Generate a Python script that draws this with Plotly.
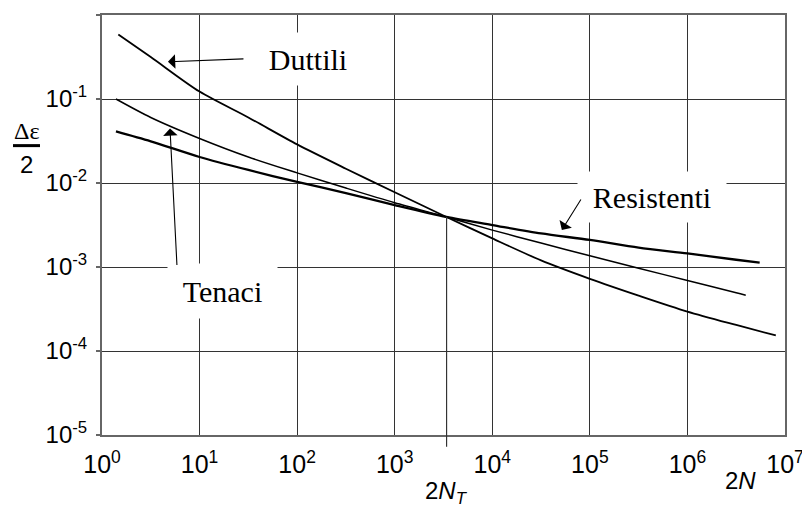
import math
import plotly.graph_objects as go

# ---- data ----
duttili_x = [1.47, 3.16, 10, 31.6, 100, 316, 1000, 3390, 1e4, 3.16e4, 1e5, 3.16e5, 1e6, 3.16e6, 8.05e6]
duttili_y = [0.585, 0.316, 0.1225, 0.0603, 0.0288, 0.0148, 0.00776, 0.00394, 0.00219, 0.00120,
             0.000724, 0.000457, 0.000295, 0.000204, 0.000153]

tenaci_x = [1.39, 3.16, 10, 31.6, 100, 316, 1000, 3390, 1e4, 3.16e4, 1e5, 3.16e5, 1e6, 3.16e6, 3.96e6]
tenaci_y = [0.100, 0.0603, 0.0339, 0.0204, 0.0132, 0.00871, 0.00582, 0.00394, 0.00275, 0.00193,
            0.00136, 0.000966, 0.000692, 0.000495, 0.000462]

resistenti_x = [1.39, 3.16, 10, 31.6, 100, 316, 1000, 3390, 1e4, 3.16e4, 1e5, 3.16e5, 1e6, 3.16e6, 5.5e6]
resistenti_y = [0.0411, 0.0313, 0.0204, 0.0143, 0.0103, 0.00759, 0.00546, 0.00394, 0.00316, 0.00251,
                0.00210, 0.00170, 0.00145, 0.00122, 0.00113]

x_tickvals = [1, 10, 100, 1e3, 1e4, 1e5, 1e6, 1e7]
x_ticktext = ["10<sup>0</sup>", "10<sup>1</sup>", "10<sup>2</sup>", "10<sup>3</sup>",
              "10<sup>4</sup>", "10<sup>5</sup>", "10<sup>6</sup>", "10<sup>7</sup>"]
y_tickvals = [1e-5, 1e-4, 1e-3, 1e-2, 1e-1, 1]
y_ticktext = ["10<sup>-5</sup>", "10<sup>-4</sup>", "10<sup>-3</sup>", "10<sup>-2</sup>",
              "10<sup>-1</sup>", "10<sup>0</sup>"]

n_t = 3400          # transition life 2N_T
eps_t = 0.00394     # strain at the crossing point

# ---- figure ----
fig = go.Figure()
fig.add_trace(go.Scatter(x=duttili_x, y=duttili_y, mode="lines", name="Duttili",
                         line=dict(color="black", width=1.8, shape="spline", smoothing=0.8)))
fig.add_trace(go.Scatter(x=tenaci_x, y=tenaci_y, mode="lines", name="Tenaci",
                         line=dict(color="black", width=1.5, shape="spline", smoothing=0.8)))
fig.add_trace(go.Scatter(x=resistenti_x, y=resistenti_y, mode="lines", name="Resistenti",
                         line=dict(color="black", width=2.3, shape="spline", smoothing=0.8)))

sans = "Liberation Sans, Arial, sans-serif"
serif_family = "Liberation Serif, Times New Roman, serif"
x_tick_font = dict(family=sans, size=25, color="black")
y_tick_font = dict(family=sans, size=24, color="black")
label_font = dict(family=sans, size=24, color="black")
serif = dict(family=serif_family, size=30, color="black")

fig.update_layout(
    width=802, height=500,
    margin=dict(l=94, r=25, t=5, b=73),
    paper_bgcolor="white", plot_bgcolor="white",
    showlegend=False,
    xaxis=dict(type="log", range=[0, 7], tickvals=x_tickvals, ticktext=x_ticktext,
               showgrid=True, gridcolor="#333", gridwidth=1,
               showline=True, linecolor="#666", linewidth=2, mirror=True,
               ticks="", tickfont=x_tick_font, ticklabelstandoff=6, zeroline=False),
    yaxis=dict(type="log", range=[-5, 0], tickvals=y_tickvals, ticktext=y_ticktext,
               showgrid=True, gridcolor="#333", gridwidth=1,
               showline=True, linecolor="#666", linewidth=2, mirror=True,
               ticks="outside", ticklen=4, tickcolor="#666", tickwidth=1.5,
               tickfont=y_tick_font, ticklabelstandoff=4, zeroline=False),
)

# vertical guide at 2N_T, from the crossing point down below the axis
fig.add_shape(type="line", xref="x", yref="paper", x0=n_t, x1=n_t,
              y0=-0.028, y1=(math.log10(eps_t) + 5) / 5,
              line=dict(color="#333", width=1.2))

# y axis title: fraction  Δε / 2
fig.add_shape(type="line", xref="paper", yref="paper", x0=-0.1303, x1=-0.0908,
              y0=0.689, y1=0.689, line=dict(color="black", width=3))
fig.add_annotation(xref="paper", yref="paper", x=-0.1098, y=0.723, text="Δε",
                   xanchor="center", yanchor="middle", showarrow=False,
                   font=dict(family=serif_family, size=24, color="black"))
fig.add_annotation(xref="paper", yref="paper", x=-0.1112, y=0.645, text="2",
                   xanchor="center", yanchor="middle", showarrow=False,
                   font=label_font)

# x axis labels
fig.add_annotation(xref="x", yref="paper", x=math.log10(n_t), y=-0.138,
                   xanchor="center", yanchor="middle",
                   text="2<i>N</i><sub><i>T</i></sub>", showarrow=False, font=label_font)
fig.add_annotation(xref="paper", yref="paper", x=0.935, y=-0.109,
                   xanchor="center", yanchor="middle",
                   text="2<i>N</i>", showarrow=False, font=label_font)

# curve labels (white boxes interrupt the grid)
fig.add_annotation(x=2.116, y=-0.52, text="Duttili", showarrow=False, font=serif,
                   xanchor="center", yanchor="middle",
                   bgcolor="white", width=100, height=50)
fig.add_annotation(x=5.635, y=-2.168, text="Resistenti", showarrow=False, font=serif,
                   xanchor="center", yanchor="middle",
                   bgcolor="white", width=146, height=48)
fig.add_annotation(x=1.24, y=-3.29, text="Tenaci", showarrow=False, font=serif,
                   xanchor="center", yanchor="middle",
                   bgcolor="white", width=107, height=52)

# arrows
arrow = dict(showarrow=True, text="", arrowhead=1, arrowsize=2.2, arrowwidth=1.1,
             arrowcolor="black")
fig.add_annotation(x=0.676, y=-0.557, ax=77, ay=-3, **arrow)
fig.add_annotation(x=0.697, y=-1.351, ax=7, ay=138, **arrow)
fig.add_annotation(x=4.713, y=-2.559, ax=20, ay=-32, **arrow)

fig.write_html("out.html")
